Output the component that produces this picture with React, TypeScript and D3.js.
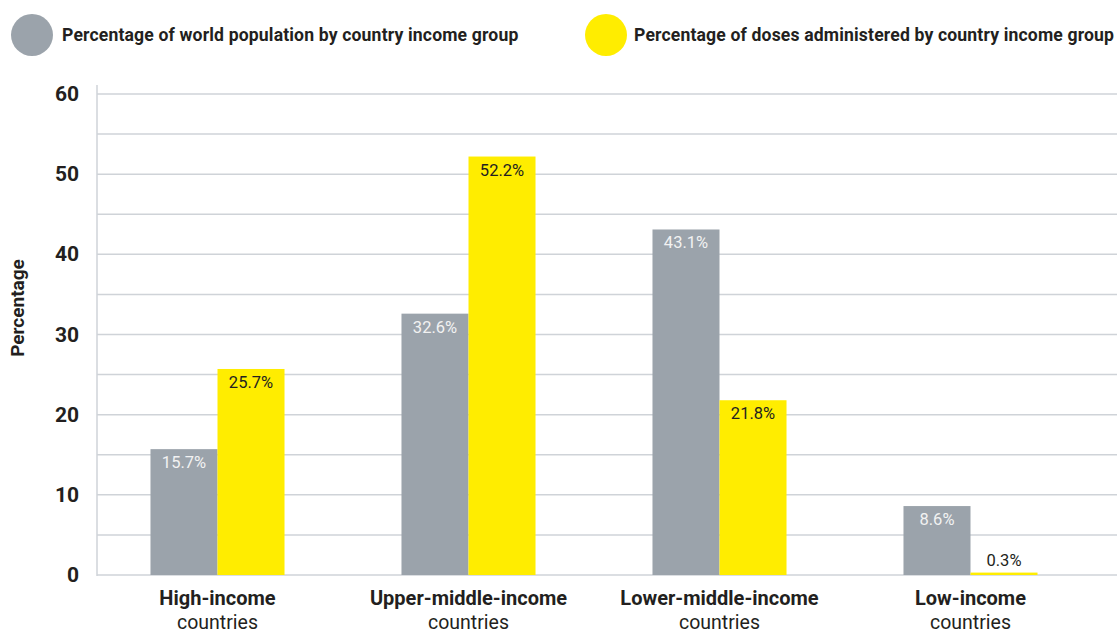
import React from "react";
import * as d3 from "d3";

const categories = ["High-income", "Upper-middle-income", "Lower-middle-income", "Low-income"];
const subLabel = "countries";
const seriesNames = [
  "Percentage of world population by country income group",
  "Percentage of doses administered by country income group",
];
const populationPct = [15.7, 32.6, 43.1, 8.6];
const dosesPct = [25.7, 52.2, 21.8, 0.3];
const yTicks = [0, 10, 20, 30, 40, 50, 60];
const gridTicks = [0, 5, 10, 15, 20, 25, 30, 35, 40, 45, 50, 55, 60];
const colors = ["#9ba3ab", "#ffed00"];
const labelColors = ["#f2f2f2", "#231f20"];

export default function App() {
  const W = 1117, H = 633;
  const y = d3.scaleLinear().domain([0, 60]).range([575, 94]);
  const x0 = d3.scaleBand<string>().domain(categories).range([92, 1096]).paddingInner(0.466).paddingOuter(0.233);
  const x1 = d3.scaleBand<string>().domain(["pop", "dose"]).range([0, x0.bandwidth()]);
  const series = [populationPct, dosesPct];
  const keys = ["pop", "dose"];
  const font = "Roboto, 'Liberation Sans', sans-serif";
  const dark = "#231f20";
  return (
    <svg width={W} height={H} style={{ position: "absolute", left: 0, top: 0 }} fontFamily={font}>
      {/* legend */}
      <circle cx={32} cy={35} r={21} fill={colors[0]} />
      <text x={62} y={41} fontSize={17.6} fontWeight={700} fill={dark} letterSpacing={0.15}>{seriesNames[0]}</text>
      <circle cx={606} cy={35} r={21} fill={colors[1]} />
      <text x={634} y={41} fontSize={17.6} fontWeight={700} fill={dark} letterSpacing={0.15}>{seriesNames[1]}</text>

      {/* grid */}
      {gridTicks.map((t) => (
        <line key={t} x1={97} x2={W} y1={y(t)} y2={y(t)} stroke="#cfd3d8" strokeWidth={1.5} />
      ))}
      <line x1={97} x2={97} y1={85} y2={576} stroke="#cfd3d8" strokeWidth={1.5} />
      {yTicks.map((t) => (
        <text key={t} x={79} y={y(t) + 7} textAnchor="end" fontSize={21} fontWeight={700} fill={dark}>{t}</text>
      ))}
      <text transform={`translate(24,308) rotate(-90)`} textAnchor="middle" fontSize={19} fontWeight={700} fill={dark}>Percentage</text>

      {/* bars */}
      {categories.map((c, i) => (
        <g key={c} transform={`translate(${x0(c)},0)`}>
          {series.map((s, j) => {
            const v = s[i];
            const bx = x1(keys[j])!;
            const top = y(v);
            const inside = y(0) - top > 25;
            return (
              <g key={j}>
                <rect x={bx} y={top} width={x1.bandwidth()} height={y(0) - top} fill={colors[j]} />
                <text
                  x={bx + x1.bandwidth() / 2}
                  y={inside ? top + 19 : top - 7}
                  textAnchor="middle"
                  fontSize={16.5}
                  fill={inside ? labelColors[j] : dark}
                >{v}%</text>
              </g>
            );
          })}
          <text x={x0.bandwidth() / 2} y={605} textAnchor="middle" fontSize={20} fontWeight={700} fill={dark}>{c}</text>
          <text x={x0.bandwidth() / 2} y={629} textAnchor="middle" fontSize={19.5} fill={dark}>{subLabel}</text>
        </g>
      ))}
    </svg>
  );
}
